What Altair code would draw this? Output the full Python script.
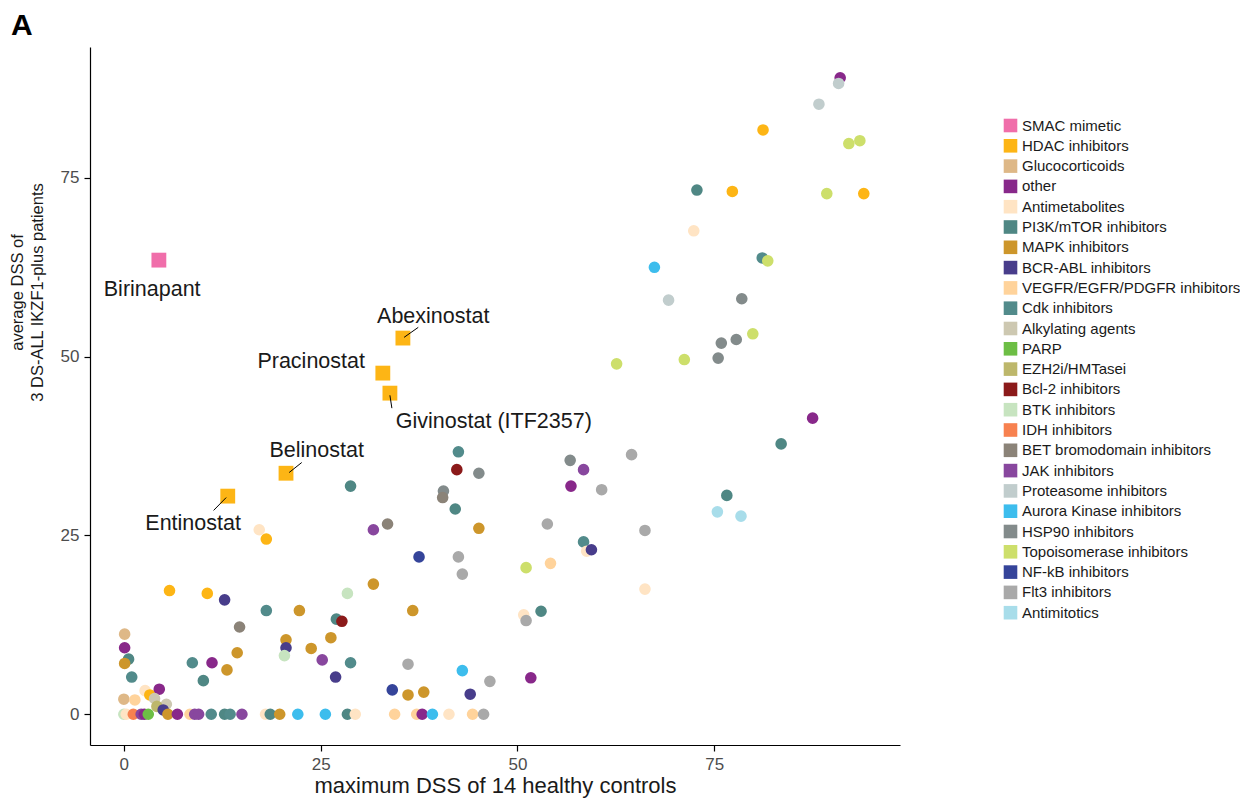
import altair as alt
import pandas as pd

FONT = "Liberation Sans"

# ---- legend classes and colours ----
classes = ["SMAC mimetic", "HDAC inhibitors", "Glucocorticoids", "other", "Antimetabolites",
           "PI3K/mTOR inhibitors", "MAPK inhibitors", "BCR-ABL inhibitors",
           "VEGFR/EGFR/PDGFR inhibitors", "Cdk inhibitors", "Alkylating agents", "PARP",
           "EZH2i/HMTasei", "Bcl-2 inhibitors", "BTK inhibitors", "IDH inhibitors",
           "BET bromodomain inhibitors", "JAK inhibitors", "Proteasome inhibitors",
           "Aurora Kinase inhibitors", "HSP90 inhibitors", "Topoisomerase inhibitors",
           "NF-kB inhibitors", "Flt3 inhibitors", "Antimitotics"]
class_colors = ["#F06EAA", "#FDB515", "#DEB887", "#88288A", "#FFE4C4",
                "#4F8784", "#CD962B", "#483D8B",
                "#FFD39B", "#528B8B", "#CDC8B1", "#6DBE45",
                "#BDB76B", "#8B1A1A", "#C7E4C0", "#F7814F",
                "#8B8378", "#88479E", "#C1CDCD",
                "#3DBDED", "#838B8B", "#CDDF6B",
                "#35449A", "#A9A9A9", "#A8DDEA"]

# ---- circle points ----
point_class = [
    "other", "Proteasome inhibitors", "Proteasome inhibitors", "HDAC inhibitors",
    "Topoisomerase inhibitors", "Topoisomerase inhibitors", "PI3K/mTOR inhibitors", "HDAC inhibitors",
    "Topoisomerase inhibitors", "HDAC inhibitors", "Antimetabolites", "Cdk inhibitors",
    "Topoisomerase inhibitors", "Aurora Kinase inhibitors", "Proteasome inhibitors", "HSP90 inhibitors",
    "Topoisomerase inhibitors", "HSP90 inhibitors", "HSP90 inhibitors", "HSP90 inhibitors",
    "Topoisomerase inhibitors", "Topoisomerase inhibitors",
    "other", "PI3K/mTOR inhibitors", "PI3K/mTOR inhibitors", "Antimitotics", "Antimitotics",
    "Cdk inhibitors", "Bcl-2 inhibitors", "HSP90 inhibitors", "HSP90 inhibitors", "JAK inhibitors",
    "Flt3 inhibitors", "other", "Flt3 inhibitors", "PI3K/mTOR inhibitors", "MAPK inhibitors",
    "Flt3 inhibitors", "Flt3 inhibitors", "Cdk inhibitors", "Antimetabolites", "BCR-ABL inhibitors",
    "Flt3 inhibitors", "Flt3 inhibitors", "Topoisomerase inhibitors", "VEGFR/EGFR/PDGFR inhibitors",
    "Antimetabolites", "Antimetabolites", "Flt3 inhibitors", "PI3K/mTOR inhibitors",
    "Aurora Kinase inhibitors", "Flt3 inhibitors", "other", "BCR-ABL inhibitors",
    "PI3K/mTOR inhibitors", "HSP90 inhibitors", "BET bromodomain inhibitors", "JAK inhibitors",
    "BET bromodomain inhibitors", "NF-kB inhibitors", "Antimetabolites", "HDAC inhibitors",
    "HDAC inhibitors", "HDAC inhibitors", "BCR-ABL inhibitors", "BTK inhibitors", "MAPK inhibitors",
    "Cdk inhibitors", "MAPK inhibitors", "PI3K/mTOR inhibitors", "Bcl-2 inhibitors", "MAPK inhibitors",
    "BET bromodomain inhibitors", "Glucocorticoids", "other", "PI3K/mTOR inhibitors", "MAPK inhibitors",
    "Cdk inhibitors", "MAPK inhibitors", "BCR-ABL inhibitors", "BTK inhibitors", "MAPK inhibitors",
    "MAPK inhibitors", "MAPK inhibitors", "Cdk inhibitors", "other", "MAPK inhibitors",
    "PI3K/mTOR inhibitors", "JAK inhibitors", "Cdk inhibitors", "BCR-ABL inhibitors", "Flt3 inhibitors",
    "NF-kB inhibitors", "MAPK inhibitors", "MAPK inhibitors",
    "Antimetabolites", "HDAC inhibitors", "other", "Glucocorticoids", "VEGFR/EGFR/PDGFR inhibitors",
    "Alkylating agents", "Alkylating agents", "EZH2i/HMTasei", "BCR-ABL inhibitors",
    "BTK inhibitors", "Antimetabolites", "IDH inhibitors", "JAK inhibitors", "other", "PARP",
    "MAPK inhibitors", "other", "VEGFR/EGFR/PDGFR inhibitors", "JAK inhibitors", "JAK inhibitors",
    "Cdk inhibitors", "PI3K/mTOR inhibitors", "Cdk inhibitors", "JAK inhibitors",
    "Antimetabolites", "PI3K/mTOR inhibitors", "MAPK inhibitors", "Aurora Kinase inhibitors",
    "Aurora Kinase inhibitors", "PI3K/mTOR inhibitors", "Antimetabolites",
    "VEGFR/EGFR/PDGFR inhibitors", "VEGFR/EGFR/PDGFR inhibitors", "other", "Aurora Kinase inhibitors",
    "Antimetabolites", "VEGFR/EGFR/PDGFR inhibitors", "Flt3 inhibitors",
]
point_x = [
    91.0, 90.8, 88.3, 81.2, 92.1, 93.5, 72.8, 77.3, 89.3, 94.0, 72.4, 81.1, 81.8, 67.4, 69.2, 78.5,
    79.9, 75.9, 77.8, 75.5, 71.2, 62.6,
    87.5, 83.5, 76.6, 75.4, 78.4, 42.5, 42.3, 45.1, 56.7, 58.4, 64.5, 56.8, 60.7, 42.1, 45.1,
    53.8, 66.2, 58.4, 58.8, 59.4, 42.5, 43.0, 51.1, 54.2, 66.2, 50.8, 51.1, 53.0, 43.0, 46.5,
    51.7, 44.0,
    28.8, 40.6, 40.5, 31.7, 33.5, 37.5, 17.2, 18.1, 5.8, 10.6, 12.8, 28.4, 31.7, 18.1, 22.3,
    27.0, 27.7, 36.7, 14.7, 0.1, 0.1, 0.6, 0.1, 1.0, 20.6, 20.6, 20.4, 14.4, 23.8, 26.3, 8.7,
    11.2, 13.1, 10.1, 25.2, 28.8, 26.9, 36.1, 34.1, 36.1, 38.1,
    2.7, 3.3, 4.5, 0.0, 1.4, 3.9, 5.4, 4.2, 5.0,
    0.0, 0.3, 1.2, 2.2, 2.6, 3.1, 5.6, 6.8, 8.4, 9.0, 9.5, 11.1, 12.8, 13.5, 15.0, 18.0, 18.6,
    19.8, 22.1, 25.6, 28.4, 29.4, 34.4, 37.2, 37.9, 39.2, 41.3, 44.3, 45.7,
]
point_y = [
    89.0, 88.2, 85.3, 81.7, 79.8, 80.2, 73.3, 73.1, 72.8, 72.8, 67.6, 63.8, 63.4, 62.5, 57.9, 58.1,
    53.2, 51.9, 52.4, 49.8, 49.6, 49.0,
    41.4, 37.8, 30.6, 28.3, 27.7, 36.7, 34.2, 33.7, 35.5, 34.2, 36.3, 31.9, 31.4, 28.7, 26.0,
    26.6, 25.7, 24.1, 22.8, 23.0, 22.0, 19.6, 20.5, 21.1, 17.5, 13.9, 13.1, 14.4, 6.1, 4.6,
    5.1, 2.8,
    31.9, 31.2, 30.3, 25.8, 26.6, 22.0, 25.8, 24.5, 17.3, 16.9, 16.0, 16.9, 18.2, 14.5, 14.5,
    13.3, 13.0, 14.5, 12.2, 11.2, 9.3, 7.7, 7.1, 5.2, 10.4, 9.3, 8.2, 8.6, 9.2, 10.7, 7.2,
    7.2, 6.2, 4.7, 7.6, 7.2, 5.2, 7.0, 3.4, 2.7, 3.1,
    3.3, 2.7, 3.5, 2.1, 2.0, 2.2, 1.4, 1.1, 0.6,
    0.0, 0.0, 0.0, 0.0, 0.0, 0.0, 0.0, 0.0, 0.0, 0.0, 0.0, 0.0, 0.0, 0.0, 0.0, 0.0, 0.0,
    0.0, 0.0, 0.0, 0.0, 0.0, 0.0, 0.0, 0.0, 0.0, 0.0, 0.0, 0.0,
]

# ---- highlighted drugs (squares) ----
drug_names = ["Birinapant", "Abexinostat", "Pracinostat", "Givinostat (ITF2357)", "Belinostat", "Entinostat"]
drug_class = ["SMAC mimetic", "HDAC inhibitors", "HDAC inhibitors", "HDAC inhibitors",
              "HDAC inhibitors", "HDAC inhibitors"]
drug_x = [4.45, 35.45, 32.9, 33.8, 20.6, 13.2]
drug_y = [63.5, 52.6, 47.7, 44.9, 33.7, 30.5]
label_x = [3.6, 39.3, 23.8, 47.0, 24.5, 8.8]
label_y = [59.3, 55.5, 49.2, 40.8, 36.8, 26.6]

seg_x = [35.6, 33.8, 21.0, 13.0]
seg_y = [52.7, 44.6, 33.8, 30.3]
seg_x2 = [37.4, 34.05, 22.6, 11.4]
seg_y2 = [54.1, 42.8, 35.2, 28.5]

x_ticks = [0, 25, 50, 75]
y_ticks = [0, 25, 50, 75]
panel_tag = ["A"]

points = pd.DataFrame({"cls": point_class, "x": point_x, "y": point_y})
drugs = pd.DataFrame({"name": drug_names, "cls": drug_class, "x": drug_x, "y": drug_y,
                      "lx": label_x, "ly": label_y})
segs = pd.DataFrame({"x": seg_x, "y": seg_y, "x2": seg_x2, "y2": seg_y2})
tag = pd.DataFrame({"t": panel_tag})

xscale = alt.Scale(domain=[-4.3, 98.6], nice=False, zero=False)
yscale = alt.Scale(domain=[-4.3, 93.3], nice=False, zero=False)
cscale = alt.Scale(domain=classes, range=class_colors)

xenc = alt.X("x:Q", scale=xscale,
             axis=alt.Axis(title="maximum DSS of 14 healthy controls", values=x_ticks,
                           titlePadding=3, titleFontSize=22))
yenc = alt.Y("y:Q", scale=yscale,
             axis=alt.Axis(title=["average DSS of", "3 DS-ALL IKZF1-plus patients"], values=y_ticks,
                           titleAngle=-90, titleX=-81, titleY=245, titleAlign="center",
                           titleBaseline="top", titleFontSize=16.5, titleLineHeight=20))

circles = alt.Chart(points).mark_circle(size=135, opacity=1).encode(
    x=xenc, y=yenc,
    color=alt.Color("cls:N", scale=cscale,
                    legend=alt.Legend(title=None, orient="none", legendX=913, legendY=71,
                                      symbolType="square", symbolSize=185, labelFontSize=15,
                                      labelFont=FONT, labelColor="#1A1A1A", rowPadding=4.3,
                                      symbolStrokeWidth=0, labelOffset=4, labelLimit=0))
)

squares = alt.Chart(drugs).mark_square(size=220, opacity=1).encode(
    x="x:Q", y="y:Q", color=alt.Color("cls:N", scale=cscale)
)

rules = alt.Chart(segs).mark_rule(color="black", strokeWidth=1).encode(
    x="x:Q", y="y:Q", x2="x2:Q", y2="y2:Q"
)

labels = alt.Chart(drugs).mark_text(font=FONT, fontSize=21.5, color="#1A1A1A",
                                    align="center", baseline="middle").encode(
    x="lx:Q", y="ly:Q", text="name:N"
)

tag_text = alt.Chart(tag).mark_text(font=FONT, fontSize=30, fontWeight="bold", color="black",
                                    align="left", baseline="alphabetic").encode(
    x=alt.value(-79), y=alt.value(-12), text="t:N"
)

chart = alt.layer(circles, squares, rules, labels, tag_text).properties(
    width=810, height=698,
    autosize=alt.AutoSizeParams(type="none"),
    padding={"left": 82, "top": 39, "right": 340, "bottom": 58},
).configure_view(stroke=None).configure_axis(
    grid=False, domainColor="black", domainWidth=1.2, tickColor="black", tickWidth=1.2,
    tickSize=6, labelColor="#4D4D4D", labelFont=FONT, labelFontSize=17, labelPadding=5,
    titleFont=FONT, titleFontWeight="normal", titleColor="#1A1A1A"
)

chart.save("out.html", embed_options={"renderer": "svg", "actions": False})
